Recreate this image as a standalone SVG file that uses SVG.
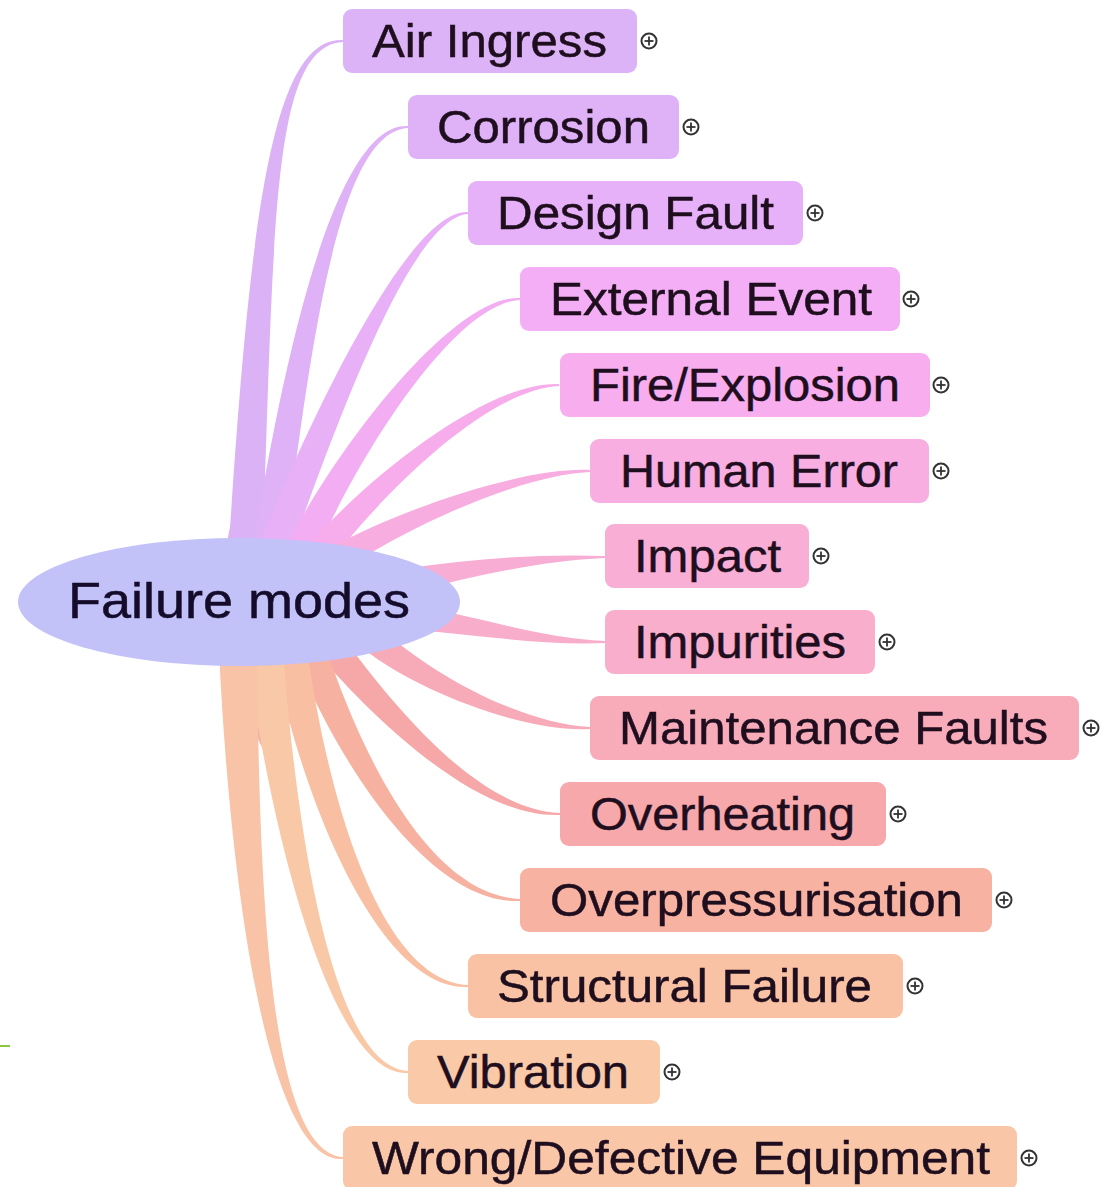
<svg xmlns="http://www.w3.org/2000/svg" xmlns:xlink="http://www.w3.org/1999/xlink" width="1105" height="1187" viewBox="0 0 1105 1187">
<style>
.lbl{font-family:"Liberation Sans",Arial,sans-serif;font-size:47px;fill:#1e0e1e;stroke:#1e0e1e;stroke-width:0.5}
.root{font-family:"Liberation Sans",Arial,sans-serif;font-size:50px;fill:#140c2a;stroke:#140c2a;stroke-width:0.5}
.exp circle{fill:#fff;stroke:#333;stroke-width:2}
.exp line{stroke:#333;stroke-width:1.8}
</style>
<defs>
<g id="plus" class="exp"><circle cx="0" cy="0" r="7.5"/><line x1="-4.5" y1="0" x2="4.5" y2="0"/><line x1="0" y1="-4.5" x2="0" y2="4.5"/></g>
</defs>
<rect width="1105" height="1187" fill="#fff"/>
<line x1="0" y1="1046" x2="10" y2="1046" stroke="#8dc63f" stroke-width="2"/>
<g id="connectors">
<path fill="#f0aaf0" d="M222,585 C226,530 238,490 252,462 C280,500 320,530 352,570 Z"/>
<path fill="#f6b0a8" d="M214,620 L362,620 C335,665 300,700 268,760 C245,710 225,680 214,620 Z"/>
<path fill="#dcb2f7" d="M228,559 C249.3,229.35 270,36 343,40 L343,42 C270,46 274.7,230.65 262,561 Z"/>
<path fill="#dfb1f7" d="M252.2,552.7 C288.1,328.3 340,122.2 408,126 L408,128 C340,131.8 311.9,331.7 283.8,557.3 Z"/>
<path fill="#e8b0f6" d="M260,542.3 C323.8,385.7 415,208.2 468,212 L468,214 C415,217.8 346.2,394.3 290,553.7 Z"/>
<path fill="#f2adf3" d="M286.6,545.3 C339.9,442 455,294.5 520,298 L520,300 C455,303.5 360.1,452 313.4,558.7 Z"/>
<path fill="#f7acec" d="M307.2,546.1 C371.9,473.3 490,380.8 559,384 L559,386 C490,389.2 388.1,486.7 328.8,563.9 Z"/>
<path fill="#f8ade0" d="M328.2,548.9 C394.9,511.7 520,467.1 590,470 L590,472 C520,474.9 405.1,528.3 341.8,571.1 Z"/>
<path fill="#f8add5" d="M407.6,568.2 C468.2,559.2 540,553.4 605,556 L605,558 C540,560.6 471.8,576.8 412.4,591.8 Z"/>
<path fill="#f8adca" d="M416.5,606.1 C481.1,617.1 540,638.4 605,641 L605,643 C540,645.6 478.9,634.9 413.5,629.9 Z"/>
<path fill="#f7aab8" d="M379,625.9 C425.3,670.9 520,723.8 590,727 L590,729 C520,732.2 414.7,689.1 365,650.1 Z"/>
<path fill="#f6a8a8" d="M341.4,635.2 C398.5,712.7 480,809.5 560,813 L560,815 C480,818.5 381.5,727.3 318.6,654.8 Z"/>
<path fill="#f7b1a1" d="M325,644.5 C361.3,755.9 430,895.2 520,899 L520,901 C430,904.8 338.7,764.1 295,655.5 Z"/>
<path fill="#f8bfa3" d="M306.8,647.2 C327.6,797.9 380,980.9 468,985 L468,987 C380,991.1 302.4,802.1 273.2,652.8 Z"/>
<path fill="#f9c8a7" d="M282.9,648.2 C295.4,818.7 330,1066.6 408,1071 L408,1073 C330,1077.4 268.6,821.3 247.1,651.8 Z"/>
<path fill="#f8c3a6" d="M257,649.5 C259.25,899.6 270,1152.3 343,1157 L343,1159 C270,1163.7 230.75,900.4 219,650.5 Z"/>
</g>
<g id="root">
<ellipse cx="239" cy="602" rx="221" ry="64" fill="#c2c2f8"/>
<text class="root" x="68" y="618" textLength="342" lengthAdjust="spacingAndGlyphs">Failure modes</text>
</g>
<g id="n1"><rect x="343" y="9" width="294" height="64" rx="9" fill="#ddb3f8"/><text class="lbl" x="372" y="57" textLength="235" lengthAdjust="spacingAndGlyphs">Air Ingress</text><use xlink:href="#plus" x="649" y="41"/></g>
<g id="n2"><rect x="408" y="95" width="271" height="64" rx="9" fill="#dfb2f8"/><text class="lbl" x="437" y="143" textLength="213" lengthAdjust="spacingAndGlyphs">Corrosion</text><use xlink:href="#plus" x="691" y="127"/></g>
<g id="n3"><rect x="468" y="181" width="335" height="64" rx="9" fill="#e6b1f8"/><text class="lbl" x="497" y="229" textLength="277" lengthAdjust="spacingAndGlyphs">Design Fault</text><use xlink:href="#plus" x="815" y="213"/></g>
<g id="n4"><rect x="520" y="267" width="380" height="64" rx="9" fill="#f3aef5"/><text class="lbl" x="550" y="315" textLength="322" lengthAdjust="spacingAndGlyphs">External Event</text><use xlink:href="#plus" x="911" y="299"/></g>
<g id="n5"><rect x="560" y="353" width="370" height="64" rx="9" fill="#f8adee"/><text class="lbl" x="590" y="401" textLength="310" lengthAdjust="spacingAndGlyphs">Fire/Explosion</text><use xlink:href="#plus" x="941" y="385"/></g>
<g id="n6"><rect x="590" y="439" width="339" height="64" rx="9" fill="#f9aee2"/><text class="lbl" x="620" y="487" textLength="278" lengthAdjust="spacingAndGlyphs">Human Error</text><use xlink:href="#plus" x="941" y="471"/></g>
<g id="n7"><rect x="605" y="524" width="204" height="64" rx="9" fill="#f9aed6"/><text class="lbl" x="634" y="572" textLength="147" lengthAdjust="spacingAndGlyphs">Impact</text><use xlink:href="#plus" x="821" y="556"/></g>
<g id="n8"><rect x="605" y="610" width="270" height="64" rx="9" fill="#f9aecb"/><text class="lbl" x="634" y="658" textLength="212" lengthAdjust="spacingAndGlyphs">Impurities</text><use xlink:href="#plus" x="887" y="642"/></g>
<g id="n9"><rect x="590" y="696" width="489" height="64" rx="9" fill="#f8abb9"/><text class="lbl" x="619" y="744" textLength="429" lengthAdjust="spacingAndGlyphs">Maintenance Faults</text><use xlink:href="#plus" x="1091" y="728"/></g>
<g id="n10"><rect x="560" y="782" width="326" height="64" rx="9" fill="#f7a8aa"/><text class="lbl" x="590" y="830" textLength="265" lengthAdjust="spacingAndGlyphs">Overheating</text><use xlink:href="#plus" x="898" y="814"/></g>
<g id="n11"><rect x="520" y="868" width="472" height="64" rx="9" fill="#f8b2a2"/><text class="lbl" x="550" y="916" textLength="413" lengthAdjust="spacingAndGlyphs">Overpressurisation</text><use xlink:href="#plus" x="1004" y="900"/></g>
<g id="n12"><rect x="468" y="954" width="435" height="64" rx="9" fill="#f9c2a4"/><text class="lbl" x="497" y="1002" textLength="375" lengthAdjust="spacingAndGlyphs">Structural Failure</text><use xlink:href="#plus" x="915" y="986"/></g>
<g id="n13"><rect x="408" y="1040" width="252" height="64" rx="9" fill="#facaa8"/><text class="lbl" x="437" y="1088" textLength="192" lengthAdjust="spacingAndGlyphs">Vibration</text><use xlink:href="#plus" x="672" y="1072"/></g>
<g id="n14"><rect x="343" y="1126" width="674" height="64" rx="9" fill="#f9c6a8"/><text class="lbl" x="372" y="1174" textLength="618" lengthAdjust="spacingAndGlyphs">Wrong/Defective Equipment</text><use xlink:href="#plus" x="1029" y="1158"/></g>
</svg>
